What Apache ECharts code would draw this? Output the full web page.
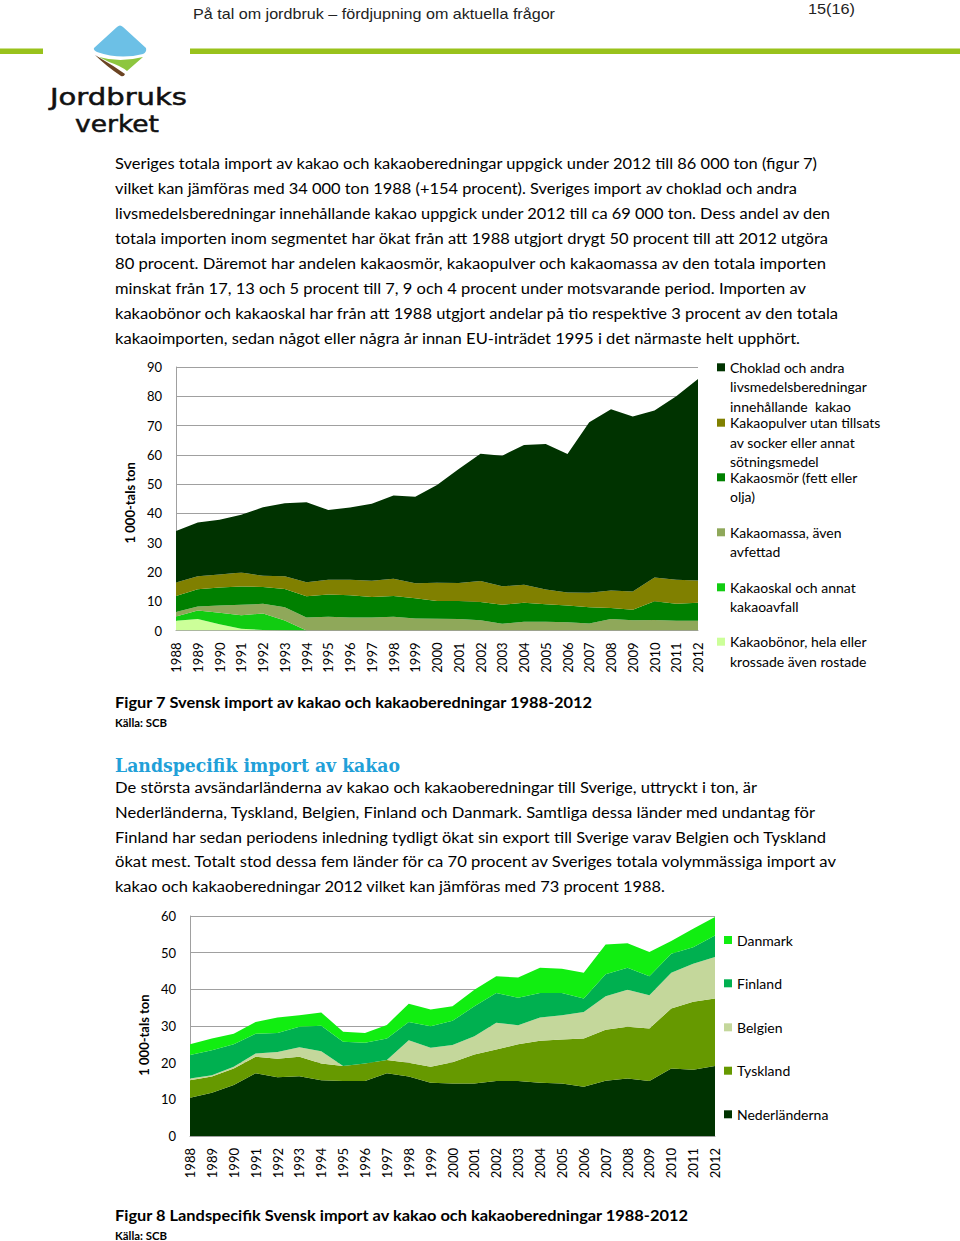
<!DOCTYPE html>
<html><head><meta charset="utf-8">
<script src="https://cdn.jsdelivr.net/npm/echarts@6/dist/echarts.min.js"></script>
<style>
html,body{margin:0;padding:0;background:#fff;}
#page{position:relative;width:960px;height:1241px;overflow:hidden;background:#fff;}
#txt{position:absolute;left:0;top:0;}
.chart{position:absolute;left:0;width:960px;}
.body{font-family:Lato,'Open Sans',sans-serif;font-size:15.5px;fill:#000;}
.bold{font-weight:bold;}
</style></head><body><div id="page">
<svg id="txt" width="960" height="1241" xmlns="http://www.w3.org/2000/svg">
  <rect x="0" y="48.5" width="43" height="5.5" fill="#99c21c"/>
  <rect x="190" y="48.5" width="770" height="5.5" fill="#99c21c"/>
  <path d="M94,48 L117,27 Q120,24 123,27 L146,48 Q147,52 143,54 Q120,60 97,52 Q93,50 94,48 Z" fill="#6cc0e6"/>
  <path d="M99,57 Q120,63 143,57 L127,71 Q121,66 109,62 Z" fill="#8dc63f"/>
  <path d="M95,55 Q106,66 121,76 Q124,77 125,74 Q114,66 100,58 Z" fill="#6b4423"/>
  <text x="50" y="105" font-family="'DejaVu Sans',sans-serif" font-size="23" stroke="#111" stroke-width="0.5" textLength="137" lengthAdjust="spacingAndGlyphs" fill="#111">Jordbruks</text>
  <text x="75" y="132" font-family="'DejaVu Sans',sans-serif" font-size="23" stroke="#111" stroke-width="0.5" textLength="84" lengthAdjust="spacingAndGlyphs" fill="#111">verket</text>
  <text x="193" y="19" font-family="'Liberation Sans Narrow','Liberation Sans',sans-serif" font-size="15" textLength="362" lengthAdjust="spacingAndGlyphs" fill="#222">På tal om jordbruk – fördjupning om aktuella frågor</text>
  <text x="808" y="14" font-family="'Liberation Sans Narrow','Liberation Sans',sans-serif" font-size="15" textLength="47" lengthAdjust="spacingAndGlyphs" fill="#222">15(16)</text>
  <g class="body">
    <text x="115" y="168.5" textLength="702" lengthAdjust="spacingAndGlyphs">Sveriges totala import av kakao och kakaoberedningar uppgick under 2012 till 86 000 ton (figur 7)</text>
    <text x="115" y="193.5" textLength="682" lengthAdjust="spacingAndGlyphs">vilket kan jämföras med 34 000 ton 1988 (+154 procent). Sveriges import av choklad och andra</text>
    <text x="115" y="218.5" textLength="715" lengthAdjust="spacingAndGlyphs">livsmedelsberedningar innehållande kakao uppgick under 2012 till ca 69 000 ton. Dess andel av den</text>
    <text x="115" y="243.5" textLength="713" lengthAdjust="spacingAndGlyphs">totala importen inom segmentet har ökat från att 1988 utgjort drygt 50 procent till att 2012 utgöra</text>
    <text x="115" y="268.5" textLength="711" lengthAdjust="spacingAndGlyphs">80 procent. Däremot har andelen kakaosmör, kakaopulver och kakaomassa av den totala importen</text>
    <text x="115" y="293.5" textLength="691" lengthAdjust="spacingAndGlyphs">minskat från 17, 13 och 5 procent till 7, 9 och 4 procent under motsvarande period. Importen av</text>
    <text x="115" y="318.5" textLength="723" lengthAdjust="spacingAndGlyphs">kakaobönor och kakaoskal har från att 1988 utgjort andelar på tio respektive 3 procent av den totala</text>
    <text x="115" y="343.5" textLength="685" lengthAdjust="spacingAndGlyphs">kakaoimporten, sedan något eller några år innan EU-inträdet 1995 i det närmaste helt upphört.</text>
    <text x="115" y="707.5" class="bold" textLength="477" lengthAdjust="spacingAndGlyphs">Figur 7 Svensk import av kakao och kakaoberedningar 1988-2012</text>
    <text x="115" y="727" class="bold" font-size="11" textLength="52" lengthAdjust="spacingAndGlyphs">Källa: SCB</text>
    <text x="115" y="792.5" textLength="642" lengthAdjust="spacingAndGlyphs">De största avsändarländerna av kakao och kakaoberedningar till Sverige, uttryckt i ton, är</text>
    <text x="115" y="817.5" textLength="700" lengthAdjust="spacingAndGlyphs">Nederländerna, Tyskland, Belgien, Finland och Danmark. Samtliga dessa länder med undantag för</text>
    <text x="115" y="842.5" textLength="711" lengthAdjust="spacingAndGlyphs">Finland har sedan periodens inledning tydligt ökat sin export till Sverige varav Belgien och Tyskland</text>
    <text x="115" y="866.5" textLength="721" lengthAdjust="spacingAndGlyphs">ökat mest. Totalt stod dessa fem länder för ca 70 procent av Sveriges totala volymmässiga import av</text>
    <text x="115" y="891.5" textLength="550" lengthAdjust="spacingAndGlyphs">kakao och kakaoberedningar 2012 vilket kan jämföras med 73 procent 1988.</text>
    <text x="115" y="1220.5" class="bold" textLength="573" lengthAdjust="spacingAndGlyphs">Figur 8 Landspecifik Svensk import av kakao och kakaoberedningar 1988-2012</text>
    <text x="115" y="1239.5" class="bold" font-size="11" textLength="52" lengthAdjust="spacingAndGlyphs">Källa: SCB</text>
  </g>
  <text x="115" y="772" font-family="'DejaVu Serif',serif" font-weight="bold" font-size="19" fill="#21a0d8" textLength="285" lengthAdjust="spacingAndGlyphs">Landspecifik import av kakao</text>
</svg>
<div id="c1" class="chart" style="top:300px;height:400px;"></div>
<div id="c2" class="chart" style="top:870px;height:330px;"></div>
</div>
<script>
// ---------- data ----------
const years = ['1988','1989','1990','1991','1992','1993','1994','1995','1996','1997','1998','1999','2000','2001','2002','2003','2004','2005','2006','2007','2008','2009','2010','2011','2012'];

// Figur 7 (1 000-tals ton)
const choklad = [17.6,18.4,18.7,19.7,23.4,25.0,27.3,23.9,24.7,26.3,28.4,29.6,33.4,39.0,43.5,44.6,47.8,49.7,47.3,58.2,61.9,59.8,57.0,62.7,68.8];
const kakaopulver = [4.6,4.4,4.4,4.8,3.8,4.3,4.8,5.0,5.3,5.6,5.9,5.1,6.2,6.1,7.2,6.3,6.1,5.0,4.5,5.0,6.0,6.2,8.1,8.2,7.6];
const kakaosmor = [5.5,5.9,6.2,6.2,5.8,6.3,7.3,7.6,7.6,7.0,7.1,6.9,6.1,6.2,6.2,6.5,6.5,6.0,5.7,5.5,3.8,3.6,6.4,5.8,6.2];
const kakaomassa = [1.5,1.4,2.4,3.6,3.3,4.5,4.4,4.7,4.4,4.4,4.7,4.1,4.0,3.9,3.5,2.3,3.0,3.0,2.8,2.4,3.9,3.5,3.6,3.3,3.3];
const kakaoskal = [1.5,2.9,4.0,4.6,5.6,3.3,0,0,0,0,0,0,0,0,0,0,0,0,0,0,0,0,0,0,0];
const kakaobonor = [3.3,3.9,2.1,0.6,0.2,0.1,0,0,0,0,0,0,0,0,0,0,0,0,0,0,0,0,0,0,0];

// Figur 8 (1 000-tals ton)
const nederlanderna = [10.4,11.8,13.9,17.1,16.0,16.3,15.2,15.0,15.0,17.1,16.2,14.5,14.3,14.3,15.0,15.0,14.5,14.3,13.4,15.1,15.7,15.0,18.4,18.1,19.1];
const tyskland = [4.8,4.4,4.5,4.5,5.1,5.3,4.6,4.1,4.8,3.6,3.8,4.4,5.8,7.9,8.6,10.0,11.5,12.0,13.2,13.9,14.1,14.3,16.4,18.5,18.4];
const belgien = [0.5,0.4,0.5,0.9,1.8,2.6,3.3,0,0,0,6.1,5.2,4.7,5.0,7.3,5.2,6.3,6.6,7.2,9.1,10.1,9.1,9.7,10.4,11.3];
const finland = [6.4,6.8,6.1,5.4,5.2,5.6,7.0,6.6,5.6,5.9,5.0,5.8,6.6,8.2,8.1,7.5,6.7,6.1,3.7,6.0,6.0,5.2,5.2,4.5,5.9];
const danmark = [2.9,3.2,2.9,3.2,4.2,3.1,3.6,2.7,2.7,3.7,5.0,4.6,4.0,4.5,4.6,5.5,6.9,6.6,7.0,8.1,6.7,6.6,3.5,5.0,5.0];

const axisTitle = '1 000-tals ton';
const yTicks1 = {min:0, max:90, interval:10};
const yTicks2 = {min:0, max:60, interval:10};

// series definitions (bottom of stack first)
const names1 = ['Kakaobönor, hela eller krossade även rostade','Kakaoskal och annat kakaoavfall','Kakaomassa, även avfettad','Kakaosmör (fett eller olja)','Kakaopulver utan tillsats av socker eller annat sötningsmedel','Choklad och andra livsmedelsberedningar innehållande  kakao'];
const labels1 = ['Kakaobönor, hela eller\nkrossade även rostade','Kakaoskal och annat\nkakaoavfall','Kakaomassa, även\navfettad','Kakaosmör (fett eller\nolja)','Kakaopulver utan tillsats\nav socker eller annat\nsötningsmedel','Choklad och andra\nlivsmedelsberedningar\ninnehållande  kakao'];
const values1 = [kakaobonor,kakaoskal,kakaomassa,kakaosmor,kakaopulver,choklad];
const colors1 = ['#ccff99','#11cc11','#8fa85a','#008000','#808000','#003300'];

const names2 = ['Nederländerna','Tyskland','Belgien','Finland','Danmark'];
const values2 = [nederlanderna,tyskland,belgien,finland,danmark];
const colors2 = ['#003300','#669900','#c4d79b','#00b050','#11ee11'];

// ---------- layout ----------
const LH = 19.5;
const FONT = 'Lato';
function legends(names, labels, left, centers, divTop){
  return names.map(function(n,i){
    const lines = labels[i].split('\n').length;
    // pad with blank lines above so the icon (centred on the block) sits on line 1
    const txt = '\n'.repeat(lines-1) + labels[i];
    return {
      show:true, orient:'vertical', left:left, top:centers[i]-divTop-(2*lines-1)*LH/2, padding:0,
      itemWidth:8, itemHeight:8, icon:'rect', selectedMode:false,
      data:[n],
      formatter:function(){return txt;},
      textStyle:{fontSize:14, lineHeight:LH, color:'#000', fontFamily:FONT}
    };
  });
}
function areaSeries(names, vals, cols){
  return names.map(function(n,i){
    return {name:n, type:'line', stack:'total', data:vals[i], symbol:'none', showSymbol:false,
      lineStyle:{width:0}, areaStyle:{color:cols[i], opacity:1}, itemStyle:{color:cols[i]},
      emphasis:{disabled:true}, silent:true};
  });
}
function axes(ticks, namePad){
  return {
    xAxis:{type:'category', data:years, boundaryGap:false,
      axisLine:{show:true, lineStyle:{color:'#a0a0a0', width:1}}, axisTick:{show:false},
      axisLabel:{rotate:90, margin:12, fontSize:13, color:'#000', fontFamily:FONT, interval:0},
      splitLine:{show:false}},
    yAxis:{type:'value', min:ticks.min, max:ticks.max, interval:ticks.interval,
      axisLine:{show:true, lineStyle:{color:'#a0a0a0', width:1}}, axisTick:{show:false},
      splitLine:{show:true, lineStyle:{color:'#a0a0a0', width:1}},
      axisLabel:{margin:14, fontSize:13, color:'#000', fontFamily:FONT},
      name:axisTitle, nameLocation:'middle', nameGap:40,
      nameTextStyle:{fontWeight:'bold', fontSize:13, color:'#000', fontFamily:FONT, padding:[0,namePad,0,0]}}
  };
}

const c1 = echarts.init(document.getElementById('c1'), null, {renderer:'svg'});
const legendOrder1 = [5,4,3,2,1,0];
const ax1 = axes(yTicks1, 8);
c1.setOption({
  animation:false,
  textStyle:{fontFamily:FONT},
  grid:{left:176, top:67, width:522, height:263.5, containLabel:false},
  xAxis:ax1.xAxis, yAxis:ax1.yAxis,
  legend:legends(legendOrder1.map(i=>names1[i]), legendOrder1.map(i=>labels1[i]), 717, [367.3,422.7,477.3,532.3,587.3,641.7], 300),
  series:areaSeries(names1, values1, colors1)
});

const c2 = echarts.init(document.getElementById('c2'), null, {renderer:'svg'});
const legendOrder2 = [4,3,2,1,0];
const ax2 = axes(yTicks2, 18);
c2.setOption({
  animation:false,
  textStyle:{fontFamily:FONT},
  grid:{left:190, top:46, width:525, height:220, containLabel:false},
  xAxis:ax2.xAxis, yAxis:ax2.yAxis,
  legend:legends(legendOrder2.map(i=>names2[i]), legendOrder2.map(i=>names2[i]), 724, [940,983.3,1027.3,1070.7,1114.3], 870),
  series:areaSeries(names2, values2, colors2)
});
</script>
</body></html>
